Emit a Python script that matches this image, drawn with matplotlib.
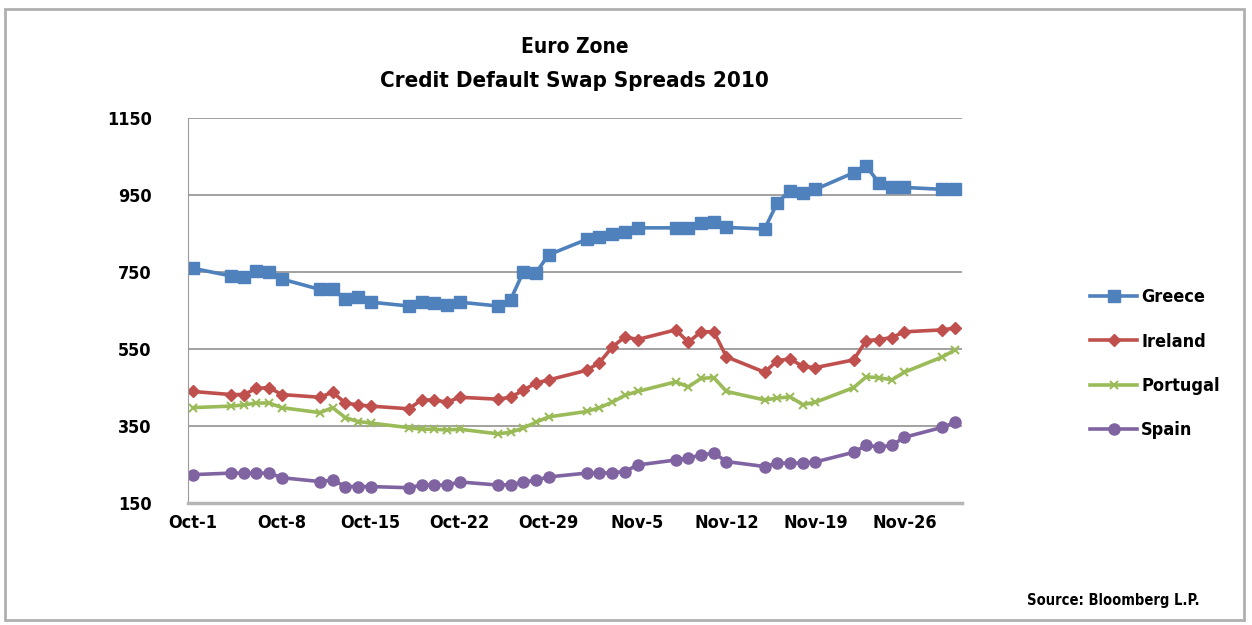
import numpy as np
import pandas as pd
import matplotlib
matplotlib.use("Agg")
from matplotlib import pyplot as plt
import matplotlib.dates as mdates
from matplotlib.patches import Rectangle

# trading days Oct-1 .. Nov-30 2010
dates = pd.bdate_range("2010-10-01", "2010-11-30")

greece = [760,
          740, 738, 752, 750, 732,
          705, 705, 680, 685, 672,
          662, 672, 670, 665, 672,
          662, 678, 750, 748, 795,
          835, 842, 848, 855, 865,
          865, 865, 877, 880, 866,
          862, 930, 962, 955, 965,
          1008, 1025, 982, 970, 970,
          965, 965]
ireland = [440,
           432, 432, 448, 450, 432,
           425, 438, 410, 405, 402,
           395, 418, 418, 412, 425,
           420, 425, 443, 462, 470,
           495, 515, 555, 582, 575,
           600, 568, 595, 595, 530,
           490, 520, 525, 505, 502,
           522, 572, 575, 580, 595,
           600, 605]
portugal = [398,
            402, 405, 410, 410, 398,
            385, 398, 372, 362, 358,
            346, 342, 342, 340, 342,
            330, 334, 345, 360, 374,
            388, 398, 412, 430, 440,
            465, 452, 474, 476, 440,
            418, 423, 426, 406, 412,
            450, 478, 476, 470, 490,
            530, 548]
spain = [224,
         228, 228, 228, 228, 216,
         206, 210, 193, 193, 193,
         190, 197, 197, 197, 205,
         197, 198, 204, 210, 218,
         228, 228, 229, 232, 249,
         262, 267, 275, 280, 258,
         245, 254, 254, 254, 257,
         282, 300, 296, 300, 321,
         347, 360]

tick_dates = pd.date_range("2010-10-01", periods=9, freq="7D")
tick_labels = ["Oct-1", "Oct-8", "Oct-15", "Oct-22", "Oct-29",
               "Nov-5", "Nov-12", "Nov-19", "Nov-26"]
yticks = [150, 350, 550, 750, 950, 1150]

plt.rcParams["font.family"] = ["DejaVu Sans"]
plt.rcParams["font.stretch"] = "condensed"

fig = plt.figure(figsize=(12.52, 6.25), dpi=100)
ax = fig.add_axes([0.150, 0.195, 0.618, 0.616])

x = mdates.date2num(dates)
ax.plot(x, greece, color="#4F81BD", lw=2.6, marker="s", ms=9, label="Greece")
ax.plot(x, ireland, color="#C0504D", lw=2.6, marker="D", ms=6, label="Ireland")
ax.plot(x, portugal, color="#9BBB59", lw=2.6, marker="x", ms=6, mew=1.5, label="Portugal")
ax.plot(x, spain, color="#8064A2", lw=2.6, marker="o", ms=8, label="Spain")

ax.set_xlim(x[0] - 0.4, x[-1] + 0.5)
ax.set_ylim(150, 1150)
ax.set_yticks(yticks)
ax.set_xticks(mdates.date2num(tick_dates))
ax.set_xticklabels(tick_labels)
ax.yaxis.grid(True, color="#9a9a9a", lw=1.3)
ax.set_axisbelow(True)
for s in ["top", "right"]:
    ax.spines[s].set_visible(False)
ax.spines["left"].set_color("#9a9a9a")
ax.spines["bottom"].set_color("#b5b5b5")
ax.spines["bottom"].set_linewidth(2.5)
ax.tick_params(length=0, labelsize=13)
ax.tick_params(axis="y", pad=26)
ax.tick_params(axis="x", pad=8)
for t in ax.get_xticklabels() + ax.get_yticklabels():
    t.set_fontweight("bold")

fig.text(0.459, 0.925, "Euro Zone", ha="center", va="center", fontsize=15, fontweight="bold")
fig.text(0.459, 0.870, "Credit Default Swap Spreads 2010", ha="center", va="center",
         fontsize=16, fontweight="bold")

fig.legend(loc="center left", bbox_to_anchor=(0.858, 0.418), frameon=False,
           handlelength=2.6, handletextpad=0.2, labelspacing=1.45,
           prop={"size": 13, "weight": "bold", "stretch": "condensed"})

fig.text(0.958, 0.040, "Source: Bloomberg L.P.", ha="right", va="center",
         fontsize=10.5, fontweight="bold")

# outer chart border
fig.patches.append(Rectangle((0.004, 0.008), 0.990, 0.978, transform=fig.transFigure,
                             fill=False, edgecolor="#b0b0b0", lw=2))

fig.savefig("out.png", dpi=100)
